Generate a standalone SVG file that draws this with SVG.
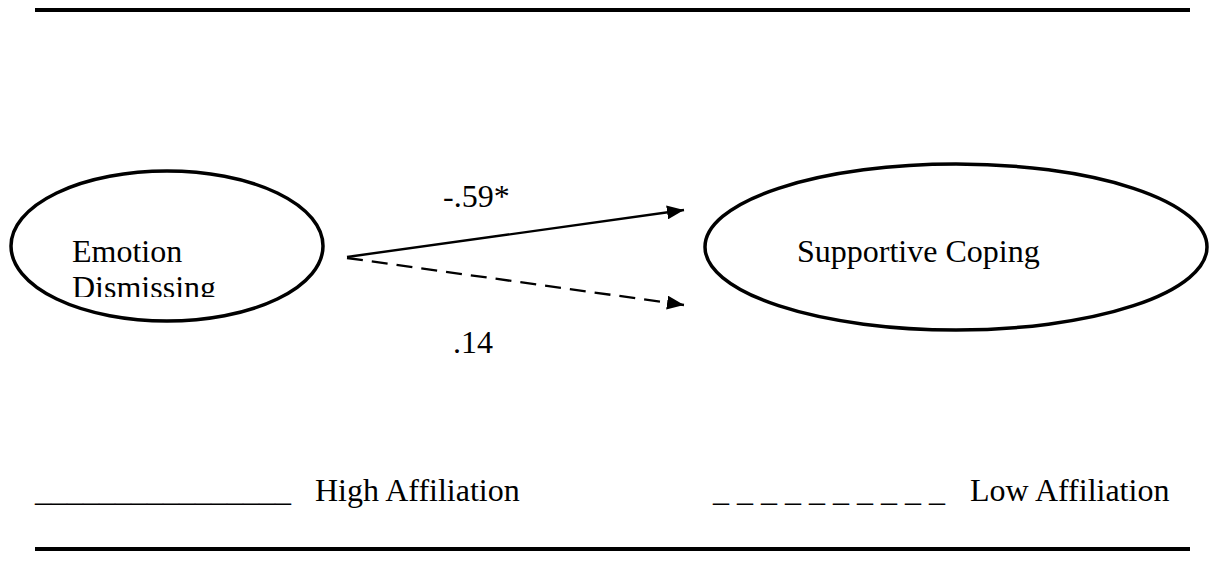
<svg xmlns="http://www.w3.org/2000/svg" width="1213" height="580" viewBox="0 0 1213 580">
  <style>
    .t { font-family: "Liberation Serif", "Times New Roman", serif; font-size: 32px; fill: #000; }
    .node { fill: none; stroke: #000; stroke-width: 3.5; }
    .rule { stroke: #000; stroke-width: 4; }
    .conn { stroke: #000; stroke-width: 2.3; fill: none; }
  </style>
  <defs>
    <marker id="arrow" markerUnits="userSpaceOnUse" markerWidth="17" markerHeight="14" refX="17" refY="7" orient="auto">
      <path d="M0,0 L17,7 L0,14 Z" fill="#000"/>
    </marker>
    <clipPath id="clipLeft">
      <rect x="0" y="150" width="340" height="147"/>
    </clipPath>
  </defs>
  <rect width="1213" height="580" fill="#fff"/>

  <line class="rule" x1="35" y1="10" x2="1190" y2="10"/>
  <line class="rule" x1="35" y1="549" x2="1190" y2="549"/>

  <g id="node-emotion-dismissing">
    <ellipse class="node" cx="167" cy="246" rx="156" ry="75"/>
    <g clip-path="url(#clipLeft)">
      <text class="t" x="72" y="262">Emotion</text>
      <text class="t" x="72" y="298">Dismissing</text>
    </g>
  </g>

  <g id="node-supportive-coping">
    <ellipse class="node" cx="956" cy="247" rx="251" ry="83"/>
    <text class="t" x="797" y="262">Supportive Coping</text>
  </g>

  <g id="connectors">
    <line class="conn" x1="347" y1="257" x2="684" y2="210" marker-end="url(#arrow)"/>
    <line class="conn" x1="347" y1="258" x2="684" y2="305" stroke-dasharray="16 9" marker-end="url(#arrow)"/>
  </g>

  <g id="labels">
    <text class="t" x="443" y="207">-.59*</text>
    <text class="t" x="453" y="353">.14</text>
  </g>

  <g id="legend">
    <text class="t" x="35" y="501">________________</text>
    <text class="t" x="315" y="501">High Affiliation</text>
    <text class="t" x="713" y="501" xml:space="preserve">_ _ _ _ _ _ _ _ _ _</text>
    <text class="t" x="970" y="501">Low Affiliation</text>
  </g>
</svg>
